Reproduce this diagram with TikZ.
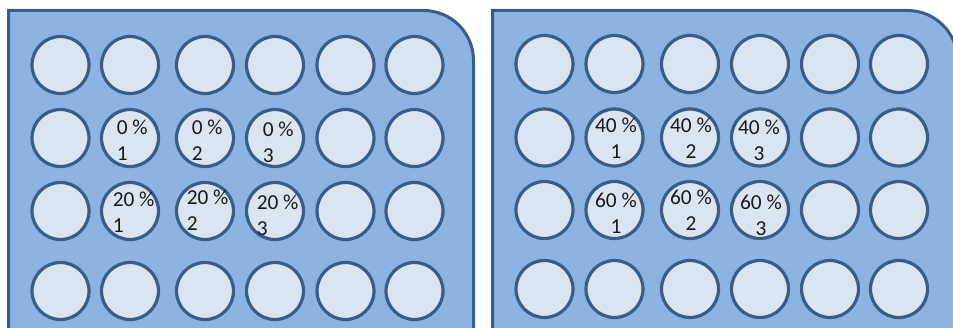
\documentclass[tikz,border=0pt]{standalone}
\usepackage{fontspec}
\setmainfont{Carlito}
\definecolor{platefill}{HTML}{8DB3E2}
\definecolor{edgeblue}{HTML}{385D8A}
\definecolor{wellfill}{HTML}{DBE5F1}
\tikzset{
  plate/.style={draw=edgeblue, fill=platefill, line width=2.25pt},
  well/.style={circle, draw=edgeblue, fill=wellfill, line width=2.4pt, inner sep=0pt, minimum size=42.75pt},
  lbl/.style={inner sep=0pt, font=\fontsize{16pt}{19pt}\selectfont, text=black!90}
}
\begin{document}
\begin{tikzpicture}[x=0.75pt,y=-0.75pt]
\useasboundingbox (0,0) rectangle (953,328);
% plates
\filldraw[plate] (8.5,340) -- (8.5,10.5) [rounded corners=37.5pt] -- (473.5,10.5) [sharp corners] -- (473.5,340);
\filldraw[plate] (492.5,340) -- (492.5,10.5) [rounded corners=37.5pt] -- (957.5,10.5) [sharp corners] -- (957.5,340);
% wells
\foreach \x [count=\i] in {60.5,130,205,275,345.5,414.5}
  \foreach \y [count=\j] in {65,138,211,291}
    \node[well] (L\j\i) at (\x,\y) {};
\foreach \x [count=\i] in {544.5,614.5,690,760,830,899}
  \foreach \y [count=\j] in {64,137.5,210,289}
    \node[well] (R\j\i) at (\x,\y) {};
% labels, left plate
\node[lbl, anchor=north west, align=left] (l0a) at (116.5,120) {0 \%\\1};
\node[lbl, anchor=north west, align=left] (l0b) at (191.5,120) {0 \%\\2};
\node[lbl, anchor=north west, align=left] (l0c) at (262.5,122) {0 \%\\3};
\node[lbl, anchor=north west, align=left] (l20a) at (112.5,192) {20 \%\\1};
\node[lbl, anchor=north west, align=left] (l20b) at (186.5,190) {20 \%\\2};
\node[lbl, anchor=north west, align=left] (l20c) at (256.5,195) {20 \%\\3};
% labels, right plate
\node[lbl, anchor=north, align=center] (r40a) at (616,118) {40 \%\\1};
\node[lbl, anchor=north, align=center] (r40b) at (691,118) {40 \%\\2};
\node[lbl, anchor=north, align=center] (r40c) at (759,120) {40 \%\\3};
\node[lbl, anchor=north, align=center] (r60a) at (616,193) {60 \%\\1};
\node[lbl, anchor=north, align=center] (r60b) at (691,190) {60 \%\\2};
\node[lbl, anchor=north, align=center] (r60c) at (761,195) {60 \%\\3};
\end{tikzpicture}
\end{document}
